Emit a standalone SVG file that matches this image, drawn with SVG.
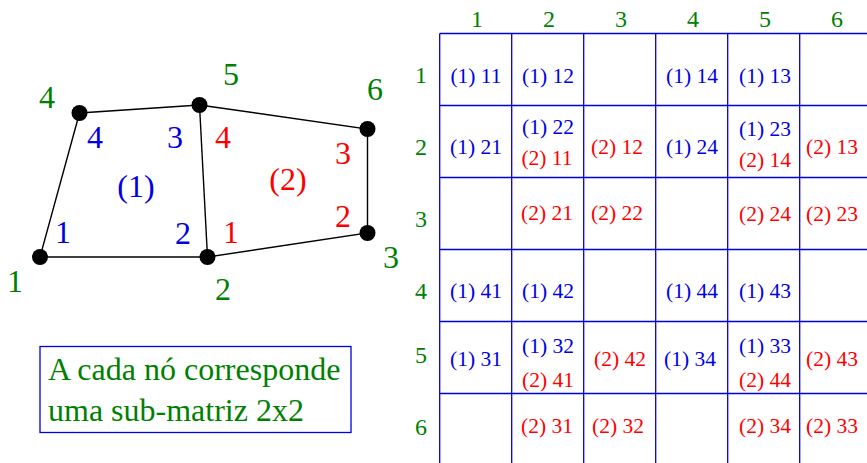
<svg xmlns="http://www.w3.org/2000/svg" width="867" height="463" viewBox="0 0 867 463">
<style>
text{font-family:"Liberation Serif","Times New Roman",serif}
.g{fill:#008000}.b{fill:#0000e6}.r{fill:#ff0000}
.n{font-size:32px;text-anchor:middle}
.h{font-size:24px;text-anchor:middle}
.c{font-size:21.500px;text-anchor:middle}
.t{font-size:32px}
.e{stroke:#000;stroke-width:1.4;fill:none}
.l{stroke:#0000e0;stroke-width:1.3;fill:none}
</style>
<rect width="867" height="463" fill="#fff"/>
<g id="connectors">
<path class="e" d="M40 257H207.500L367.500 233V129L199.500 105L79.500 113Z"/>
<path class="e" d="M199.500 105L207.500 257"/>
</g>
<g id="node-1"><circle cx="40" cy="257" r="8"/><text class="n g" x="15" y="292">1</text></g>
<g id="node-2"><circle cx="207.500" cy="257" r="8"/><text class="n g" x="223" y="300">2</text></g>
<g id="node-3"><circle cx="367.500" cy="233" r="8"/><text class="n g" x="391" y="268">3</text></g>
<g id="node-4"><circle cx="79.500" cy="113" r="8"/><text class="n g" x="47" y="108">4</text></g>
<g id="node-5"><circle cx="199.500" cy="105" r="8"/><text class="n g" x="231" y="85">5</text></g>
<g id="node-6"><circle cx="367.500" cy="129" r="8"/><text class="n g" x="375" y="100">6</text></g>
<g id="element-1">
<text class="n b" x="63" y="243">1</text><text class="n b" x="183" y="244">2</text><text class="n b" x="175" y="148">3</text><text class="n b" x="95" y="148">4</text>
<text class="t b" text-anchor="middle" x="136" y="197">(1)</text>
</g>
<g id="element-2">
<text class="n r" x="231" y="243">1</text><text class="n r" x="343" y="227">2</text><text class="n r" x="343" y="164">3</text><text class="n r" x="223" y="148">4</text>
<text class="t r" text-anchor="middle" x="288" y="190">(2)</text>
</g>
<g id="note">
<rect class="l" x="40" y="346.500" width="311" height="86"/>
<text class="t g" x="48" y="380">A cada nó corresponde</text>
<text class="t g" x="48" y="421">uma sub-matriz 2x2</text>
</g>
<g id="matrix-grid">
<path class="l" d="M439.700 33.500H867M439.700 105.500H867M439.700 177.500H867M439.700 249.500H867M439.700 321.500H867M439.700 393.500H867M439.700 33.500V463M511.700 33.500V463M583.700 33.500V463M655.700 33.500V463M727.700 33.500V463M799.700 33.500V463"/>
</g>
<g id="matrix-headers">
<text class="h g" x="477" y="27">1</text><text class="h g" x="549" y="27">2</text><text class="h g" x="621" y="27">3</text><text class="h g" x="693" y="27">4</text><text class="h g" x="765" y="27">5</text><text class="h g" x="837" y="27">6</text>
<text class="h g" x="421" y="83">1</text><text class="h g" x="421" y="155">2</text><text class="h g" x="421" y="227">3</text><text class="h g" x="421" y="299">4</text><text class="h g" x="421" y="363">5</text><text class="h g" x="421" y="435">6</text>
</g>
<g id="matrix-cells">
<text class="c b" x="476" y="83">(1) 11</text><text class="c b" x="548" y="83">(1) 12</text><text class="c b" x="692" y="83">(1) 14</text><text class="c b" x="765" y="83">(1) 13</text>
<text class="c b" x="476" y="154">(1) 21</text><text class="c b" x="548" y="134">(1) 22</text><text class="c r" x="547" y="165">(2) 11</text><text class="c r" x="617" y="154">(2) 12</text><text class="c b" x="692" y="154">(1) 24</text><text class="c b" x="765" y="136">(1) 23</text><text class="c r" x="765" y="167">(2) 14</text><text class="c r" x="832" y="154">(2) 13</text>
<text class="c r" x="547" y="220">(2) 21</text><text class="c r" x="617" y="220">(2) 22</text><text class="c r" x="765" y="221">(2) 24</text><text class="c r" x="832" y="221">(2) 23</text>
<text class="c b" x="476" y="298">(1) 41</text><text class="c b" x="548" y="298">(1) 42</text><text class="c b" x="692" y="298">(1) 44</text><text class="c b" x="765" y="298">(1) 43</text>
<text class="c b" x="476" y="366">(1) 31</text><text class="c b" x="548" y="353">(1) 32</text><text class="c r" x="548" y="387">(2) 41</text><text class="c r" x="620" y="366">(2) 42</text><text class="c b" x="690" y="366">(1) 34</text><text class="c b" x="765" y="353">(1) 33</text><text class="c r" x="765" y="387">(2) 44</text><text class="c r" x="832" y="366">(2) 43</text>
<text class="c r" x="547" y="433">(2) 31</text><text class="c r" x="618" y="433">(2) 32</text><text class="c r" x="765" y="433">(2) 34</text><text class="c r" x="832" y="433">(2) 33</text>
</g>
</svg>
